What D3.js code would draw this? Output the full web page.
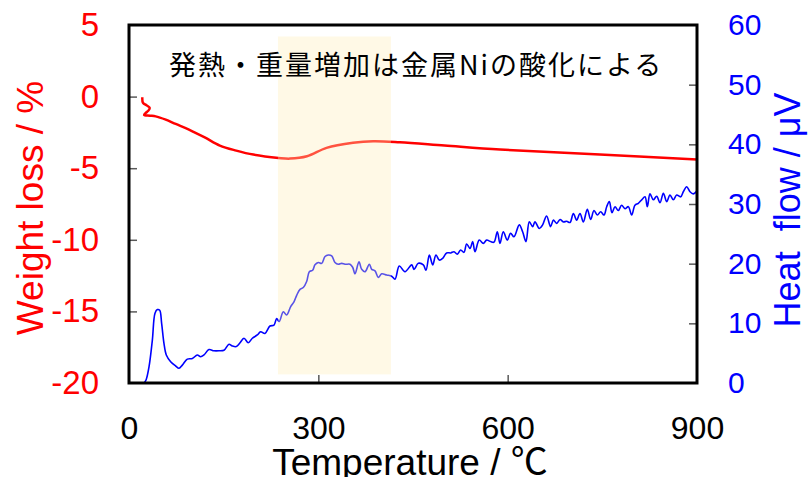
<!DOCTYPE html>
<html><head><meta charset="utf-8">
<script src="https://cdn.jsdelivr.net/npm/d3@7"></script>
<style>body{margin:0;background:#fff}svg{display:block}</style>
</head><body>
<svg id="c" width="808" height="477"></svg>
<script>
// ---- data ----
const xTicks = [0, 300, 600, 900];
const leftTicks = [5, 0, -5, -10, -15, -20];
const rightTicks = [0, 10, 20, 30, 40, 50, 60];
const shadeT = [236, 415];
const shadeW = [-19.4, 4.2];
const titleText = "発熱・重量増加は金属Niの酸化による";
const xLabel = "Temperature / ℃";
const leftLabel = "Weight loss / %";
const rightLabel = "Heat\u00A0 flow / μV";

const weightData = [[21.1,-0.05],[22.2,-0.44],[28.5,-0.63],[32.8,-0.79],[30.1,-1.01],[26.5,-1.14],[24,-1.28],[33.3,-1.33],[42.3,-1.38],[58.2,-1.61],[74,-1.91],[95,-2.30],[120,-2.85],[144,-3.42],[170,-3.77],[197,-4.05],[237,-4.28],[255,-4.33],[282,-4.17],[313,-3.58],[355,-3.23],[387,-3.12],[429,-3.19],[500,-3.42],[588,-3.70],[746,-4.05],[900,-4.40]];

const heatData = [[24,0],[27,0.5],[31.7,2.7],[37,7.2],[41.2,11.7],[44.9,12.3],[48.6,12.2],[51.7,10],[55.4,6.65],[59.1,4.7],[66,3.57],[73.9,2.85],[79.2,2.46],[84.5,3.0],[92.4,4.0],[100.3,4.1],[108.2,4.7],[113.5,4.4],[118.8,4.7],[126.7,5.6],[134.6,5.4],[142.6,5.4],[150.5,5.5],[158.4,6.5],[163.7,6.2],[170,6.1],[175.3,6.65],[182.2,7.5],[189,6.75],[195.4,7.5],[203.3,8.05],[208.6,8.6],[215.4,8.3],[223.4,9.55],[229.7,9.7],[234,10.8],[238,10.3],[244.5,11.95],[249.8,11.4],[256.2,12.8],[261.4,13.6],[265.7,14.7],[271,15.7],[276.2,16.0],[281.5,17.0],[285.7,18.65],[291,18.9],[294.7,19.8],[300,20.2],[305.3,20.05],[310.6,21.2],[315.8,21.45],[321.2,21.3],[326.4,20.2],[331.6,19.9],[337,20.05],[342.3,19.9],[350.2,19.9],[354.4,19.4],[358.1,18.3],[364.4,20.3],[368.7,19.05],[374,18.65],[380.8,19.9],[384.6,19.05],[389.8,18.8],[395,17.7],[400.4,18.3],[408.3,18.1],[416.2,17.9],[421.5,17.4],[428.3,19.6],[437.3,18.65],[448,19.8],[451.6,19.05],[458.4,20.05],[466.4,19.8],[470.6,18.9],[475.9,21.45],[481.2,19.8],[486.4,21.45],[491.7,20.6],[497,20.9],[503.3,21.8],[509.7,21.8],[515,22.0],[520.2,21.6],[525.5,22.3],[530.8,21.9],[535,23.3],[540.3,22.55],[544.5,23.7],[548.2,22.0],[555,23.95],[561.4,23.4],[566.7,23.95],[573,23.7],[578.3,23.6],[583.6,25.35],[587.8,23.4],[593.1,25.35],[599.4,23.95],[604.7,25.1],[610,24.5],[618.4,26.5],[623.7,25.35],[629,23.7],[634.3,27.0],[639.6,26.2],[643.3,27.0],[650.1,25.9],[655.4,26.5],[661.7,28.0],[668,26.2],[672.4,27.3],[677.7,26.75],[683,27.4],[688.2,27.0],[693.5,27.1],[698.8,26.9],[704.1,28.4],[709.3,27.3],[714.6,28.4],[719.9,27.0],[726.2,29.1],[731.5,27.4],[736.8,28.9],[742.1,28.15],[747.4,28.7],[752.6,28.15],[756.9,29.55],[761.1,30.4],[765.3,28.55],[770.1,29.55],[775.3,28.9],[780.6,29.8],[785.9,29.2],[791.2,29.55],[796.5,28.15],[801.7,29.8],[807,30.1],[812.3,30.7],[817.6,31.2],[821.3,29.55],[825.5,31.7],[830.8,30.7],[836.1,31.3],[841.4,30.2],[846.7,31.8],[852,30.4],[857.2,31.5],[862.5,30.7],[867.8,31.5],[874.1,31.2],[878.3,32.05],[883.6,32.9],[888.9,32.05],[894.2,31.7],[900,32.2]];

// ---- layout ----
const L = 129, R = 697, T = 25, B = 383;
const sans = "'Liberation Sans', Arial, 'Noto Sans CJK JP', sans-serif";
const svg = d3.select("#c");
const x = d3.scaleLinear().domain([0, 900]).range([L, R]);
const yL = d3.scaleLinear().domain([-20, 5]).range([B, T]);
const yR = d3.scaleLinear().domain([0, 60]).range([B, T]);

// lines
svg.append("path").datum(weightData)
  .attr("d", d3.line().x(d => x(d[0])).y(d => yL(d[1])).curve(d3.curveCatmullRom))
  .attr("fill", "none").attr("stroke", "#ff0000").attr("stroke-width", 2.5);
svg.append("path").datum(heatData)
  .attr("d", d3.line().x(d => x(d[0])).y(d => yR(d[1])).curve(d3.curveCatmullRom))
  .attr("fill", "none").attr("stroke", "#0000ff").attr("stroke-width", 1.6)
  .attr("stroke-linejoin", "round");

// shaded band (semi-transparent overlay)
svg.append("rect")
  .attr("x", x(shadeT[0])).attr("width", x(shadeT[1]) - x(shadeT[0]))
  .attr("y", yL(shadeW[1])).attr("height", yL(shadeW[0]) - yL(shadeW[1]))
  .attr("fill", "rgb(255,238,184)").attr("fill-opacity", 0.35);

// axes
function styleAxis(g, color, size) {
  g.select(".domain").remove();
  g.selectAll(".tick line").attr("stroke", "#595959").attr("stroke-width", 1.5);
  g.selectAll(".tick text").attr("fill", color).style("font-family", sans).style("font-size", size + "px");
}
const gl = svg.append("g").attr("transform", `translate(${L},0)`)
  .call(d3.axisLeft(yL).tickValues(leftTicks).tickSize(-8).tickPadding(30).tickFormat(d3.format("d")));
styleAxis(gl, "#ff0000", 33);
gl.selectAll(".tick text").text(d => d < 0 ? "-" + Math.abs(d) : d);
gl.selectAll(".tick line").filter(d => d === 5 || d === -20).remove();

const gr = svg.append("g").attr("transform", `translate(${R},0)`)
  .call(d3.axisRight(yR).tickValues(rightTicks).tickSize(-8).tickPadding(31));
styleAxis(gr, "#0000ff", 30);
gr.selectAll(".tick line").filter(d => d === 0 || d === 60).remove();

const gb = svg.append("g").attr("transform", `translate(0,${B})`)
  .call(d3.axisBottom(x).tickValues(xTicks).tickSize(-8).tickPadding(33));
styleAxis(gb, "#000", 32);
gb.selectAll(".tick line").filter(d => d === 0 || d === 900).remove();

// frame
svg.append("rect").attr("x", L).attr("y", T).attr("width", R - L).attr("height", B - T)
  .attr("fill", "none").attr("stroke", "#000").attr("stroke-width", 3);

// titles
svg.append("text").attr("x", 169).attr("y", 75)
  .style("font-family", "'Noto Sans CJK JP', sans-serif").style("font-size", "27px")
  .attr("letter-spacing", 2).attr("fill", "#000").text(titleText);

svg.append("text").attr("x", 410).attr("y", 475).attr("text-anchor", "middle")
  .style("font-family", sans).style("font-size", "37px").attr("fill", "#000").text(xLabel);

svg.append("text").attr("transform", "translate(43,208) rotate(-90)").attr("text-anchor", "middle")
  .style("font-family", sans).style("font-size", "37px").attr("fill", "#ff0000").text(leftLabel);

svg.append("text").attr("transform", "translate(800,210) rotate(-90)").attr("text-anchor", "middle")
  .style("font-family", sans).style("font-size", "36px").attr("fill", "#0000ff").text(rightLabel);
</script>
</body></html>
